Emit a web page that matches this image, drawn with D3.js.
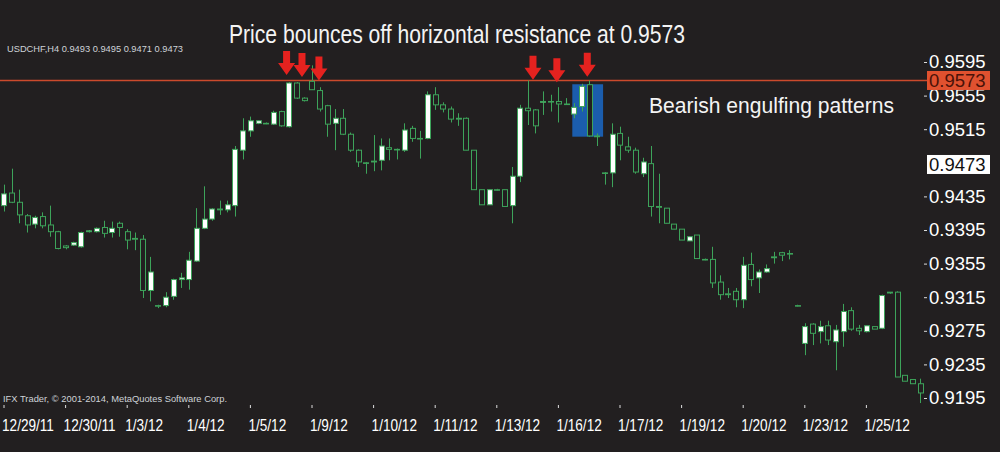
<!DOCTYPE html>
<html>
<head>
<meta charset="utf-8">
<script src="https://cdn.jsdelivr.net/npm/d3@7"></script>
<style>
  html, body { margin: 0; padding: 0; background: #221f20; }
  svg { display: block; }
</style>
</head>
<body>
<svg id="chart" width="1000" height="452"></svg>
<script>
// ---------------- data (USDCHF H4) ----------------
const openP  = [0.9424,0.9439,0.9428,0.9412,0.9402,0.9411,0.9401,0.9393,0.9376,0.9377,0.9375,0.9393,0.9393,0.9398,0.9392,0.9403,0.9393,0.9385,0.9384,0.9323,
                0.9305,0.9305,0.9316,0.9336,0.9336,0.9358,0.9397,0.9408,0.9419,0.9419,0.9424,0.9490,0.9513,0.9522,0.9522,0.9521,0.9536,0.9518,0.9570,0.9552,
                0.9572,0.9561,0.9543,0.9522,0.9528,0.9509,0.9490,0.9475,0.9476,0.9478,0.9493,0.9491,0.9490,0.9516,0.9504,0.9504,0.9556,0.9544,0.9539,0.9528,
                0.9528,0.9490,0.9443,0.9425,0.9443,0.9443,0.9424,0.9459,0.9540,0.9538,0.9547,0.9548,0.9548,0.9545,0.9533,0.9542,0.9568,0.9507,0.9463,0.9463,
                0.9510,0.9494,0.9490,0.9462,0.9474,0.9423,0.9421,0.9402,0.9396,0.9382,0.9389,0.9360,0.9360,0.9333,0.9319,0.9322,0.9312,0.9354,0.9338,0.9345,
                0.9363,0.9368,0.9367,0.9305,0.9260,0.9283,0.9274,0.9281,0.9262,0.9274,0.9299,0.9278,0.9274,0.9280,0.9278,0.9320,0.9321,0.9222,0.9217,0.9212];
const highP  = [0.9449,0.9468,0.9443,0.9414,0.9412,0.9416,0.9424,0.9394,0.9377,0.9381,0.9393,0.9395,0.9398,0.9406,0.9405,0.9405,0.9396,0.9392,0.9389,0.9363,
                0.9306,0.9321,0.9337,0.9344,0.9369,0.9421,0.9447,0.9421,0.9430,0.9430,0.9495,0.9528,0.9530,0.9525,0.9523,0.9537,0.9537,0.9571,0.9571,0.9553,
                0.9591,0.9565,0.9544,0.9539,0.9539,0.9511,0.9491,0.9476,0.9508,0.9504,0.9504,0.9492,0.9522,0.9519,0.9513,0.9560,0.9565,0.9547,0.9542,0.9534,
                0.9529,0.9490,0.9443,0.9443,0.9444,0.9443,0.9470,0.9544,0.9573,0.9539,0.9560,0.9556,0.9565,0.9552,0.9546,0.9569,0.9573,0.9510,0.9464,0.9522,
                0.9518,0.9506,0.9493,0.9481,0.9495,0.9462,0.9421,0.9402,0.9396,0.9387,0.9389,0.9361,0.9375,0.9341,0.9326,0.9326,0.9363,0.9368,0.9348,0.9354,
                0.9369,0.9369,0.9371,0.9306,0.9284,0.9284,0.9287,0.9287,0.9282,0.9307,0.9303,0.9282,0.9281,0.9280,0.9318,0.9321,0.9322,0.9222,0.9217,0.9218];
const lowP   = [0.9417,0.9427,0.9403,0.9392,0.9397,0.9397,0.9387,0.9372,0.9372,0.9376,0.9374,0.9392,0.9392,0.9386,0.9386,0.9387,0.9372,0.9371,0.9314,0.9310,
                0.9302,0.9303,0.9312,0.9326,0.9324,0.9357,0.9396,0.9406,0.9413,0.9416,0.9411,0.9479,0.9506,0.9521,0.9521,0.9520,0.9518,0.9517,0.9551,0.9548,
                0.9562,0.9536,0.9506,0.9490,0.9508,0.9488,0.9470,0.9462,0.9465,0.9466,0.9478,0.9479,0.9488,0.9500,0.9480,0.9503,0.9538,0.9535,0.9523,0.9519,
                0.9490,0.9443,0.9425,0.9425,0.9442,0.9423,0.9403,0.9452,0.9520,0.9510,0.9532,0.9536,0.9523,0.9544,0.9528,0.9536,0.9506,0.9495,0.9449,0.9446,
                0.9478,0.9487,0.9462,0.9458,0.9411,0.9403,0.9403,0.9396,0.9383,0.9382,0.9361,0.9359,0.9326,0.9312,0.9314,0.9303,0.9302,0.9328,0.9320,0.9344,
                0.9355,0.9358,0.9360,0.9304,0.9246,0.9258,0.9260,0.9258,0.9228,0.9256,0.9275,0.9270,0.9273,0.9277,0.9277,0.9319,0.9220,0.9215,0.9212,0.9189];
const closeP = [0.9438,0.9428,0.9413,0.9401,0.9410,0.9400,0.9393,0.9373,0.9374,0.9380,0.9392,0.9394,0.9397,0.9391,0.9397,0.9398,0.9383,0.9384,0.9323,0.9345,
                0.9305,0.9315,0.9336,0.9338,0.9359,0.9397,0.9408,0.9420,0.9420,0.9425,0.9491,0.9513,0.9525,0.9525,0.9522,0.9535,0.9519,0.9570,0.9552,0.9549,
                0.9562,0.9539,0.9521,0.9528,0.9509,0.9490,0.9476,0.9475,0.9477,0.9495,0.9491,0.9491,0.9514,0.9504,0.9504,0.9556,0.9544,0.9539,0.9527,0.9527,
                0.9490,0.9443,0.9425,0.9443,0.9443,0.9423,0.9459,0.9540,0.9537,0.9519,0.9548,0.9548,0.9545,0.9545,0.9541,0.9566,0.9507,0.9506,0.9463,0.9509,
                0.9496,0.9490,0.9464,0.9476,0.9423,0.9422,0.9403,0.9396,0.9383,0.9387,0.9361,0.9360,0.9332,0.9318,0.9318,0.9312,0.9353,0.9336,0.9345,0.9349,
                0.9362,0.9365,0.9367,0.9305,0.9280,0.9272,0.9280,0.9264,0.9276,0.9298,0.9277,0.9275,0.9281,0.9277,0.9317,0.9321,0.9220,0.9215,0.9212,0.9201];
const bars = d3.range(openP.length);                 // bar index (H4 candles)

const dateLabels = ["12/29/11","12/30/11","1/3/12","1/4/12","1/5/12","1/9/12","1/10/12","1/11/12",
                    "1/13/12","1/16/12","1/17/12","1/19/12","1/20/12","1/23/12","1/25/12"];
const dateBars   = [0,8,16,24,32,40,48,56,64,72,80,88,96,104,112];
const priceTicks = [0.9595,0.9555,0.9515,0.9435,0.9395,0.9355,0.9315,0.9275,0.9235,0.9195];
const resistance = 0.9573;
const lastPrice  = 0.9473;
const arrowBars  = [36.7,38.7,40.9,68.7,71.8,75.75];
const arrowTips  = [0.95795,0.9577,0.9573,0.9574,0.9571,0.95775];
const engulfBox  = {fromBar:74, toBar:78, top:0.95685, bottom:0.95061};
const titleText  = "Price bounces off horizontal resistance at 0.9573";
const noteText   = "Bearish engulfing patterns";
const headerText = "USDCHF,H4  0.9493 0.9495 0.9471 0.9473";
const footerText = "IFX Trader, \u00A9 2001-2014, MetaQuotes Software Corp.";

// ---------------- drawing ----------------
const W = 1000, H = 452;
const BG = "#221f20", GREEN = "#3da35a";
const svg = d3.select("#chart");
svg.append("rect").attr("width", W).attr("height", H).attr("fill", BG);

const x = d3.scaleBand().domain(bars).range([0.15, 924.15]).paddingInner(0.35).paddingOuter(0.175);
const y = d3.scaleLinear().domain([0.9195, 0.9595]).range([398, 62]);
const xc = i => x(0) + x.bandwidth() / 2 + i * x.step();

// blue highlight box (behind candles)
svg.append("rect")
  .attr("x", x(engulfBox.fromBar) + 1)
  .attr("y", y(engulfBox.top))
  .attr("width", x(engulfBox.toBar) - x(engulfBox.fromBar))
  .attr("height", y(engulfBox.bottom) - y(engulfBox.top))
  .attr("fill", "#1b5dad");

// resistance line
svg.append("line")
  .attr("x1", 0).attr("x2", 927)
  .attr("y1", y(resistance)).attr("y2", y(resistance))
  .attr("stroke", "#cc4a2c").attr("stroke-width", 1.6);

// candles
const candles = svg.append("g").selectAll("g").data(bars).join("g");
candles.append("line")
  .attr("x1", i => Math.round(xc(i)) + 0.5).attr("x2", i => Math.round(xc(i)) + 0.5)
  .attr("y1", i => y(highP[i])).attr("y2", i => y(lowP[i]))
  .attr("stroke", GREEN).attr("stroke-width", 1);
candles.append("rect")
  .attr("x", i => Math.round(x(i)) + 0.5)
  .attr("width", Math.round(x.bandwidth()))
  .attr("y", i => y(Math.max(openP[i], closeP[i])))
  .attr("height", i => Math.max(0.6, Math.abs(y(openP[i]) - y(closeP[i]))))
  .attr("fill", i => closeP[i] > openP[i] ? "#ffffff" : BG)
  .attr("stroke", GREEN).attr("stroke-width", 1);

// red arrows
const arrowG = svg.append("g");
arrowBars.forEach((b, k) => {
  const cx = xc(b), ty = y(arrowTips[k]);
  const pts = [[cx - 3.5, ty - 24], [cx + 3.5, ty - 24], [cx + 3.5, ty - 12], [cx + 8.5, ty - 12],
               [cx, ty], [cx - 8.5, ty - 12], [cx - 3.5, ty - 12]];
  arrowG.append("path").attr("d", d3.line()(pts) + "Z").attr("fill", "#e5221f");
});

// right price axis
const yAxis = svg.append("g").attr("transform", "translate(924,0)")
  .call(d3.axisRight(y).tickValues(priceTicks).tickSize(3).tickPadding(2).tickFormat(d3.format(".4f")));
yAxis.select(".domain").remove();
yAxis.selectAll(".tick line").attr("stroke", "#dddddd");
yAxis.selectAll(".tick text").attr("fill", "#ffffff")
  .style("font-family", "'Liberation Sans', Arial, sans-serif").style("font-size", "18.5px");

// highlighted price boxes
function priceBox(val, bg, fg) {
  const g = svg.append("g").attr("transform", `translate(927,${y(val)})`);
  g.append("rect").attr("x", 0).attr("y", -9.5).attr("width", 63).attr("height", 19).attr("fill", bg);
  g.append("text").attr("x", 2).attr("y", 0).attr("dy", "0.35em").text(d3.format(".4f")(val))
    .attr("fill", fg).style("font-family", "'Liberation Sans', Arial, sans-serif").style("font-size", "18.5px");
}
priceBox(resistance, "#e0512f", "#4a1208");
priceBox(lastPrice, "#ffffff", "#111111");

// bottom date axis
const xAxis = svg.append("g").attr("transform", "translate(0,405)")
  .call(d3.axisBottom(x).tickValues(dateBars).tickSize(3).tickFormat((d, k) => dateLabels[k]));
xAxis.select(".domain").remove();
xAxis.selectAll(".tick line").attr("stroke", "#dddddd");
xAxis.selectAll(".tick text")
  .attr("fill", "#ffffff").attr("text-anchor", "start").attr("x", -2).attr("y", 26).attr("dy", null)
  .style("font-family", "'Liberation Sans', Arial, sans-serif").style("font-size", "17px")
  .each(function () {
    const w = this.getComputedTextLength();
    d3.select(this).attr("textLength", w * 0.8).attr("lengthAdjust", "spacingAndGlyphs");
  });

// texts
function label(txt, px, py, size, width, fill) {
  return svg.append("text").attr("x", px).attr("y", py).text(txt)
    .attr("fill", fill).style("font-family", "'Liberation Sans', Arial, sans-serif").style("font-size", size + "px")
    .attr("textLength", width).attr("lengthAdjust", "spacingAndGlyphs");
}
label(titleText, 229, 42.5, 25.5, 456, "#f4f4f4");
label(noteText, 649, 113.3, 21.5, 245, "#f4f4f4");
label(headerText, 7, 51.5, 8.5, 176, "#cfd3d8");
label(footerText, 3, 401.5, 8.5, 224, "#cfd3d8");
</script>
</body>
</html>
